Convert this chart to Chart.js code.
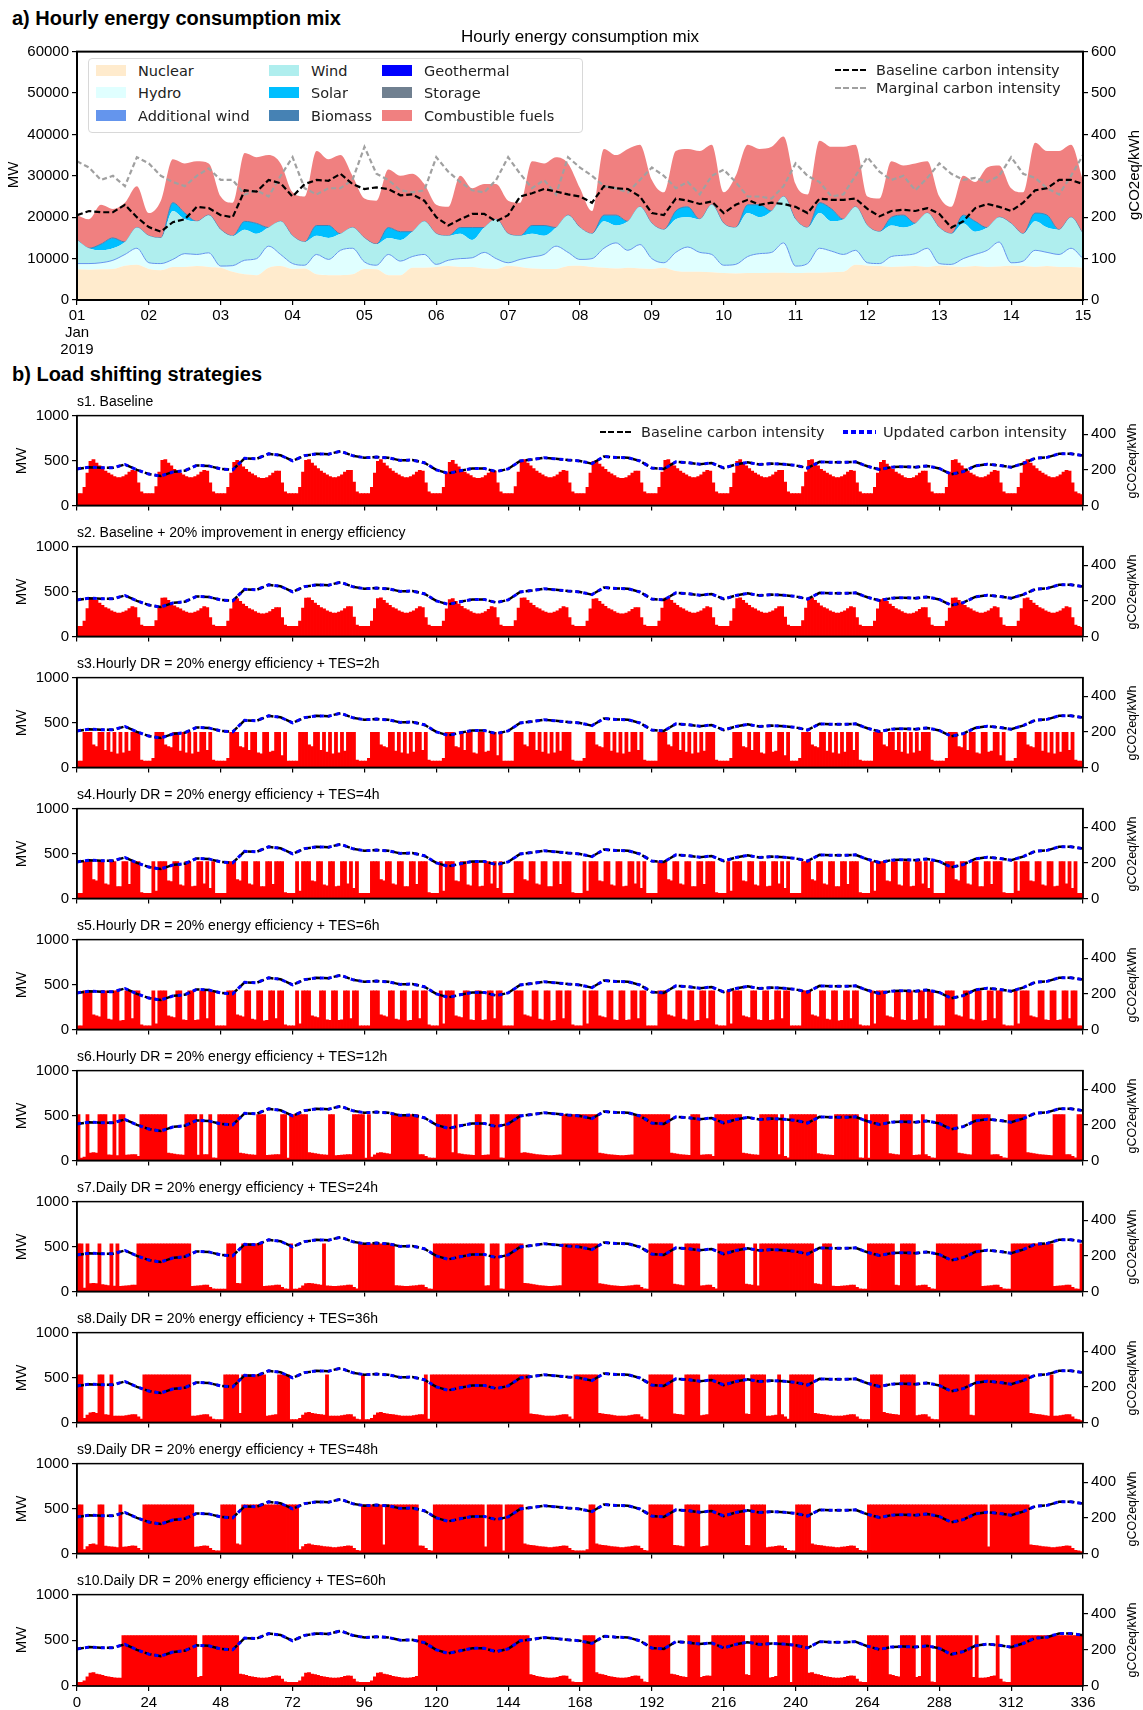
<!DOCTYPE html>
<html>
<head>
<meta charset="utf-8">
<script src="https://cdn.jsdelivr.net/npm/chart.js@4.4.1/dist/chart.umd.min.js"></script>
<style>
  body { margin: 0; background: #fff; width: 1143px; height: 1710px; position: relative; overflow: hidden;
         font-family: "Liberation Sans", Arial, sans-serif; color: #000; }
  canvas { position: absolute; left: 0; }
  .t { position: absolute; white-space: nowrap; line-height: 1; z-index: 2; }
  .legbox { position: absolute; left: 88px; top: 58px; width: 493px; height: 73px; background: #fff;
            border: 1px solid #d8d8d8; border-radius: 4px; z-index: 1; }
  .sw { position: absolute; width: 30px; height: 11px; z-index: 2; }
  .lg { font-family: "DejaVu Sans", sans-serif; font-size: 14.5px; color: #222; }
  .dash { position: absolute; z-index: 2; }
</style>
</head>
<body>
<div id="root"></div>
<script>
// ---- hours ----
const hours4 = Array.from({ length: 85 }, (_, i) => i * 4);      // sample hours of the mix / intensity curves
const barHours = Array.from({ length: 336 }, (_, i) => i + 0.5);  // hourly bars
const dayLabels = ['01','02','03','04','05','06','07','08','09','10','11','12','13','14','15'];
const hourLabels = ['0','24','48','72','96','120','144','168','192','216','240','264','288','312','336'];

// ---- a) energy mix, cumulative levels (MW), every 4 h ----
const nuclearLevel = [
  7400,7300,7400,7500,8300,8500, 7500,7200,8000,8000,8200,8000, 7800,6800,6200,6000,7800,8200,
  7500,7600,6200,6000,6000,6200, 7500,7400,6000,6000,7800,7800, 8000,8200,8000,8000,7600,7500,
  8300,8000,7600,7500,7500,8200, 8300,8000,7800,7600,7800,7600, 7500,7800,7000,6800,6800,6700,
  6500,6400,6500,6500,6600,6600, 6500,6600,6600,6700,6800,8500, 8300,8200,8000,8100,8200,8000,
  8300,8100,8000,8200,8000,8100, 8300,8200,8000,8200,8000,8000, 7800];
const hydroLevel = [
  8800,8800,9000,9600,11000,12500, 9000,8800,9800,11200,11000,11400, 8200,8300,9600,10000,13000,11000,
  8800,8400,11000,9800,12000,12500, 9200,8400,11000,9400,10500,11000, 8600,9600,10000,10200,11500,10000,
  9000,9800,10400,11000,13000,11500, 9800,10000,12500,13800,12000,13400, 10000,9000,11500,12800,11500,11000,
  8400,8600,10500,11200,11500,13800, 8200,8800,12500,11800,11000,12000, 9000,8800,10500,10800,11200,12500,
  8800,8600,10000,11000,12000,14000, 9000,9400,12000,11500,11000,12500, 10000];
const windLevel = [
  14500,12500,12000,12500,14000,17500, 15500,15000,21500,19500,19000,20500, 17000,15500,17000,16000,17500,19000,
  15500,14000,15500,15000,16000,17500, 15000,13500,15000,14500,16500,19000, 16000,15500,16000,14500,17500,19500,
  16000,15500,16000,15500,17500,20500, 17500,16000,19000,18000,19000,22500, 18500,17000,19500,20000,19500,23000,
  18500,17500,21000,20000,21500,25000, 19500,17500,21000,19000,19500,22500, 18000,16500,18000,17500,18500,21000,
  17500,16000,18500,16500,17500,20000, 18500,16000,19000,17500,17000,20000, 16000];
const solarLevel = [
  14500,12500,13500,15000,14000,17500, 15500,15000,23500,21000,19000,20500, 17000,15500,19000,18500,17500,19000,
  15500,14000,18000,18000,16000,17500, 15000,13500,17500,16500,16500,19000, 16000,15500,17500,17500,17500,19500,
  16000,15500,18000,18000,17500,20500, 17500,16000,20500,20500,19000,22500, 18500,17000,21500,22500,19500,23000,
  18500,17500,23000,23000,21500,25000, 19500,17500,23500,22000,19500,22500, 18000,16500,20000,20500,18500,21000,
  17500,16000,20500,19000,17500,20000, 18500,16000,21000,20500,17000,20000, 16000];
const fuelLevel = [
  20500,19500,23000,22000,23500,27500, 21000,24000,34000,33000,33500,33000, 25000,23500,35500,34500,35000,33000,
  26000,25000,36000,34000,35000,30000, 24500,24000,31500,30000,30500,28000, 23000,22500,30000,27000,28000,28000,
  24000,23500,33500,33000,34500,33000, 27000,21500,36500,35000,36500,37500, 29000,26000,36000,36500,36000,37500,
  26000,30000,37500,36500,37000,39500, 28000,25500,38500,37000,37000,37500, 25000,24500,33500,32500,33000,33500,
  25000,22500,30000,28500,32000,32500, 27000,26000,38000,36000,36000,37500, 29000];

// ---- carbon intensity (gCO2eq/kWh), every 4 h ----
const baselineCI = [
  205,215,212,212,230,200, 176,165,188,195,225,222, 205,200,265,262,290,282,
  250,280,290,288,305,280, 268,272,268,253,255,240, 200,180,195,208,208,190,
  205,250,258,268,262,255, 250,235,275,270,268,250, 210,205,245,240,232,238,
  210,230,242,230,235,232, 225,210,245,242,242,245, 220,202,215,218,215,222,
  208,175,190,222,232,225, 215,235,265,270,290,290, 280];
const marginalCI = [
  335,320,290,300,275,345, 330,300,285,275,300,318, 290,290,255,265,250,300,
  345,270,255,270,270,290, 370,305,290,265,260,265, 345,310,285,265,260,290,
  345,305,270,290,255,345, 320,300,275,270,260,290, 320,300,270,285,255,300,
  315,285,250,250,245,275, 330,300,285,250,255,300, 345,310,290,300,265,295,
  330,305,290,295,285,300, 345,305,295,270,255,300, 350];
// the updated intensity lies on top of the baseline curve in every scenario
const updatedCI = baselineCI;

// ---- b) hourly load per scenario (MW) ----
const s1Load = [
  130,130,200,360,490,510,470,440,410,380,360,340,320,310,310,320,340,370,390,380,250,150,130,130,
  130,130,210,370,500,510,470,440,400,380,360,340,320,310,310,320,340,370,390,380,250,150,130,130,
  130,130,200,360,480,500,460,430,400,370,350,330,310,300,300,310,330,360,380,380,250,150,130,130,
  130,130,200,370,500,510,470,440,410,380,360,340,320,310,310,320,340,370,390,390,260,150,130,130,
  130,130,200,360,490,510,470,440,410,380,360,340,320,310,310,320,340,370,390,380,250,150,130,130,
  130,130,200,360,480,500,460,430,400,370,350,330,310,300,300,310,330,360,390,380,250,150,130,130,
  130,130,210,370,500,510,470,440,410,380,360,340,320,310,310,320,340,370,390,380,250,150,130,130,
  130,130,200,360,490,500,460,430,400,370,350,330,310,300,300,310,330,360,380,380,250,150,130,130,
  130,130,200,370,500,510,470,440,410,380,360,340,320,310,310,320,340,370,390,380,250,150,130,130,
  130,130,200,360,490,510,470,440,410,380,360,340,320,310,310,320,340,370,390,390,260,150,130,130,
  130,130,210,370,500,510,470,440,400,380,360,340,320,310,310,320,340,370,390,380,250,150,130,130,
  130,130,200,360,480,500,460,430,400,370,350,330,310,300,300,310,330,360,380,380,250,150,130,130,
  130,130,200,370,500,510,470,440,410,380,360,340,320,310,310,320,340,370,390,380,250,150,130,130,
  130,130,200,360,490,510,470,440,410,380,360,340,320,310,310,320,340,370,390,380,250,150,130,120];
const s2Load = [
  110,110,170,310,420,430,400,370,345,320,305,285,270,260,260,270,285,310,330,320,210,125,110,110,
  110,110,175,315,425,430,400,370,340,320,305,285,270,260,260,270,285,310,330,320,210,125,110,110,
  110,110,170,305,410,420,390,360,335,310,295,275,260,250,250,260,275,300,320,320,210,125,110,110,
  110,110,170,315,425,430,400,370,345,320,305,285,270,260,260,270,285,310,330,330,215,125,110,110,
  110,110,170,310,420,430,400,370,345,320,305,285,270,260,260,270,285,310,330,320,210,125,110,110,
  110,110,170,305,410,420,390,360,335,310,295,275,260,250,250,260,275,300,330,320,210,125,110,110,
  110,110,175,315,425,430,400,370,345,320,305,285,270,260,260,270,285,310,330,320,210,125,110,110,
  110,110,170,305,415,420,390,360,335,310,295,275,260,250,250,260,275,300,320,320,210,125,110,110,
  110,110,170,315,425,430,400,370,345,320,305,285,270,260,260,270,285,310,330,320,210,125,110,110,
  110,110,170,310,420,430,400,370,345,320,305,285,270,260,260,270,285,310,330,330,215,125,110,110,
  110,110,175,315,425,430,400,370,340,320,305,285,270,260,260,270,285,310,330,320,210,125,110,110,
  110,110,170,305,410,420,390,360,335,310,295,275,260,250,250,260,275,300,320,320,210,125,110,110,
  110,110,170,315,425,430,400,370,345,320,305,285,270,260,260,270,285,310,330,320,210,125,110,110,
  110,110,170,310,420,430,400,370,345,320,305,285,270,260,260,270,285,310,330,320,210,125,110,100];
const s3Load = [
  70,70,390,390,390,250,230,390,390,190,390,170,390,150,390,160,390,180,390,390,390,80,70,70,
  70,100,390,390,390,250,230,220,390,390,180,390,160,390,150,390,170,390,390,190,390,80,70,70,
  70,70,100,390,390,390,230,220,390,190,390,390,160,150,390,390,170,180,390,390,130,390,70,70,
  70,70,390,390,390,250,230,390,390,190,390,170,390,150,390,160,390,180,390,390,390,80,70,70,
  70,100,390,390,390,250,230,220,390,390,180,390,160,390,150,390,170,390,390,190,390,80,70,70,
  70,70,100,390,390,390,230,220,390,190,390,390,160,150,390,390,170,180,390,390,130,390,70,70,
  70,70,390,390,390,250,230,390,390,190,390,170,390,150,390,160,390,180,390,390,390,80,70,70,
  70,100,390,390,390,250,230,220,390,390,180,390,160,390,150,390,170,390,390,190,390,80,70,70,
  70,70,390,390,390,250,230,390,390,190,390,170,390,150,390,160,390,180,390,390,390,80,70,70,
  70,70,100,390,390,390,230,220,390,190,390,390,160,150,390,390,170,180,390,390,130,390,70,70,
  70,100,390,390,390,250,230,220,390,390,180,390,160,390,150,390,170,390,390,190,390,80,70,70,
  70,70,390,390,390,250,230,390,390,190,390,170,390,150,390,160,390,180,390,390,390,80,70,70,
  70,70,100,390,390,390,230,220,390,190,390,390,160,150,390,390,170,180,390,390,130,390,70,70,
  70,100,390,390,390,250,230,220,390,390,180,390,160,390,150,390,170,390,390,190,390,80,70,70];
const s4Load = [
  55,55,410,410,410,210,195,410,410,160,150,410,410,130,130,410,410,155,410,410,410,65,55,55,
  55,410,80,410,410,410,195,185,410,410,150,140,410,410,130,135,410,410,160,410,110,410,55,55,
  55,55,410,410,410,210,195,410,410,160,150,410,410,130,130,410,410,155,410,410,410,65,55,55,
  55,410,80,410,410,410,195,185,410,410,150,140,410,410,130,135,410,410,160,410,110,410,55,55,
  55,55,410,410,410,210,195,410,410,160,150,410,410,130,130,410,410,155,410,410,410,65,55,55,
  55,410,80,410,410,410,195,185,410,410,150,140,410,410,130,135,410,410,160,410,110,410,55,55,
  55,55,410,410,410,210,195,410,410,160,150,410,410,130,130,410,410,155,410,410,410,65,55,55,
  55,410,80,410,410,410,195,185,410,410,150,140,410,410,130,135,410,410,160,410,110,410,55,55,
  55,55,410,410,410,210,195,410,410,160,150,410,410,130,130,410,410,155,410,410,410,65,55,55,
  55,410,80,410,410,410,195,185,410,410,150,140,410,410,130,135,410,410,160,410,110,410,55,55,
  55,55,410,410,410,210,195,410,410,160,150,410,410,130,130,410,410,155,410,410,410,65,55,55,
  55,410,80,410,410,410,195,185,410,410,150,140,410,410,130,135,410,410,160,410,110,410,55,55,
  55,55,410,410,410,210,195,410,410,160,150,410,410,130,130,410,410,155,410,410,410,65,55,55,
  55,410,80,410,410,410,195,185,410,410,150,140,410,410,130,135,410,410,160,410,110,410,55,55];
const s5Load = [
  40,40,430,430,430,160,150,140,430,430,115,105,430,430,95,100,430,430,120,430,430,50,40,40,
  40,430,60,430,430,430,150,140,130,430,430,105,100,430,430,100,105,430,430,120,430,430,40,40,
  40,40,430,430,430,160,150,140,430,430,115,105,430,430,95,100,430,430,120,430,430,50,40,40,
  40,430,60,430,430,430,150,140,130,430,430,105,100,430,430,100,105,430,430,120,430,430,40,40,
  40,40,430,430,430,160,150,140,430,430,115,105,430,430,95,100,430,430,120,430,430,50,40,40,
  40,430,60,430,430,430,150,140,130,430,430,105,100,430,430,100,105,430,430,120,430,430,40,40,
  40,40,430,430,430,160,150,140,430,430,115,105,430,430,95,100,430,430,120,430,430,50,40,40,
  40,430,60,430,430,430,150,140,130,430,430,105,100,430,430,100,105,430,430,120,430,430,40,40,
  40,40,430,430,430,160,150,140,430,430,115,105,430,430,95,100,430,430,120,430,430,50,40,40,
  40,430,60,430,430,430,150,140,130,430,430,105,100,430,430,100,105,430,430,120,430,430,40,40,
  40,40,430,430,430,160,150,140,430,430,115,105,430,430,95,100,430,430,120,430,430,50,40,40,
  40,430,60,430,430,430,150,140,130,430,430,105,100,430,430,100,105,430,430,120,430,430,40,40,
  40,40,430,430,430,160,150,140,430,430,115,105,430,430,95,100,430,430,120,430,430,50,40,40,
  40,430,60,430,430,430,150,140,130,430,430,105,100,430,430,100,105,430,430,120,430,430,40,40];
const s6Load = [
  510,25,35,510,80,85,80,510,510,510,60,58,510,52,510,510,58,62,65,65,45,510,510,510,
  510,510,510,510,510,510,80,75,70,65,60,58,510,510,510,510,58,510,65,65,510,28,25,510,
  510,510,510,510,510,510,80,75,70,65,60,58,510,510,510,55,58,62,65,65,510,510,25,510,
  510,510,510,510,510,85,80,75,70,65,60,58,510,510,52,55,58,62,65,65,510,510,510,510,
  25,510,35,60,80,85,80,75,70,510,510,510,510,510,510,510,510,510,65,65,45,28,25,25,
  510,510,510,510,510,85,510,75,70,65,60,58,55,510,510,55,58,62,510,510,510,28,25,510,
  510,510,510,510,80,85,80,75,70,65,60,58,55,52,52,55,58,62,510,510,510,510,510,510,
  510,510,510,510,510,510,80,75,70,65,60,58,55,52,52,55,58,62,510,510,510,510,510,510,
  510,510,510,510,510,510,80,75,70,65,60,58,55,510,510,510,58,62,65,65,45,510,510,510,
  510,510,510,510,510,510,80,75,70,65,60,58,510,510,510,510,510,510,65,510,45,28,510,510,
  510,510,510,510,510,510,510,75,70,65,60,58,55,510,510,510,510,510,510,510,510,28,25,510,
  25,510,510,510,510,510,510,75,70,65,60,510,510,510,510,55,58,62,510,65,45,28,25,510,
  510,510,510,510,510,510,80,75,70,65,60,510,510,510,510,510,510,62,65,65,45,28,25,510,
  510,510,510,510,510,85,80,75,70,65,60,58,55,52,510,510,510,510,65,65,45,28,510,510];
const s7Load = [
  530,530,35,530,85,90,85,530,75,70,65,530,58,530,55,58,60,65,70,68,530,530,530,530,
  530,530,530,530,530,530,530,530,530,530,530,530,530,530,55,58,60,65,70,68,45,28,25,25,
  25,25,530,530,530,90,85,530,530,530,530,530,530,530,55,58,60,65,70,68,45,28,25,530,
  25,25,35,60,85,90,85,80,75,70,530,60,58,55,55,58,60,65,70,68,45,28,530,530,
  530,530,530,530,530,530,530,530,530,530,65,60,58,55,55,58,60,65,70,68,45,28,25,530,
  530,530,530,530,530,530,530,530,530,530,530,530,530,530,530,530,60,65,530,530,530,28,25,530,
  530,530,530,530,530,90,85,80,75,70,65,60,58,55,55,58,60,65,530,530,530,530,530,530,
  530,530,530,530,530,530,85,80,75,70,65,60,58,55,55,58,60,65,70,68,45,28,25,530,
  530,530,530,530,530,530,530,80,75,70,65,530,530,530,530,530,60,65,70,68,45,28,530,530,
  530,530,530,530,530,530,530,80,75,70,530,60,530,530,530,530,530,530,530,530,530,530,530,530,
  530,530,530,530,530,530,85,80,75,530,530,530,58,55,55,58,60,65,70,68,45,28,25,25,
  530,530,530,530,530,530,530,530,530,70,65,530,530,530,530,530,60,65,70,68,45,28,25,530,
  530,530,530,530,530,530,530,530,530,530,530,530,530,530,55,58,60,65,70,68,45,28,25,25,
  530,530,530,530,530,530,530,530,530,530,530,530,530,530,55,58,60,65,70,68,45,28,25,530];
const s8Load = [
  530,530,45,80,105,110,100,530,530,85,80,530,70,68,68,70,75,80,85,85,60,35,530,530,
  530,530,530,530,530,530,530,530,530,530,530,530,530,530,68,70,75,80,85,85,60,35,30,30,
  30,530,530,530,530,530,100,530,530,530,530,530,530,530,530,70,75,80,85,530,530,530,530,30,
  30,30,45,80,105,110,100,95,90,85,80,530,70,68,68,70,75,80,85,85,60,35,30,530,
  30,30,45,80,105,110,100,95,90,85,80,75,70,68,68,70,75,80,85,85,530,35,530,530,
  530,530,530,530,530,530,530,530,530,530,530,530,530,530,530,530,530,530,530,530,530,530,530,530,
  530,530,530,530,530,530,530,95,90,85,80,75,70,68,68,70,75,80,85,85,60,35,530,530,
  530,530,530,530,530,530,100,95,90,85,80,75,70,68,68,70,75,80,85,85,60,35,30,530,
  530,530,530,530,530,530,530,95,90,85,80,530,530,530,530,530,75,80,85,530,530,530,530,530,
  530,530,530,530,530,530,530,95,90,530,530,530,530,530,68,70,75,80,530,85,60,35,530,530,
  530,530,530,530,530,530,100,95,90,85,80,75,70,68,68,70,75,80,85,85,60,35,30,30,
  30,530,530,530,530,110,100,95,90,85,80,530,530,530,530,530,75,80,85,85,60,35,30,30,
  530,530,530,530,530,530,530,530,530,530,80,75,530,530,530,530,530,530,530,530,530,530,530,530,
  530,530,530,530,530,530,100,95,90,85,80,75,70,530,68,70,75,80,85,85,60,35,30,20];
const s9Load = [
  540,540,42,75,100,105,95,540,540,80,75,72,68,65,540,68,72,78,82,80,55,33,540,540,
  540,540,540,540,540,540,540,540,540,540,540,540,540,540,540,68,72,78,82,80,55,33,28,28,
  540,540,540,540,540,105,95,540,540,540,540,540,540,540,540,540,540,540,540,540,540,540,540,540,
  540,540,42,75,100,105,95,90,85,80,75,72,68,65,65,68,72,78,82,80,55,33,28,540,
  540,540,540,540,540,540,95,540,540,540,540,540,540,540,540,540,540,540,82,80,55,33,28,540,
  540,540,540,540,540,540,540,540,540,540,540,540,540,540,540,540,72,540,540,540,540,540,28,540,
  540,540,540,540,540,105,95,90,85,80,75,72,68,65,65,68,72,78,82,80,55,33,28,28,
  28,28,42,540,540,105,95,90,85,80,75,72,68,65,65,68,72,78,82,80,55,33,28,540,
  540,540,540,540,540,540,540,90,85,80,75,540,540,540,540,540,72,78,82,540,540,540,540,540,
  540,540,540,540,540,540,540,90,85,540,540,540,540,540,65,68,72,78,82,80,55,33,28,28,
  540,540,540,540,540,105,95,90,85,80,75,72,68,65,65,68,72,78,82,80,55,33,28,28,
  540,540,540,540,540,540,540,540,540,540,540,540,540,540,540,540,540,540,540,540,540,540,540,540,
  540,540,540,540,540,540,540,540,540,540,540,540,540,540,540,540,72,540,540,540,540,540,540,540,
  540,540,540,540,540,540,95,90,85,80,75,72,68,65,65,68,72,78,82,80,55,33,28,20];
const s10Load = [
  40,40,55,100,140,145,130,125,115,105,100,95,90,87,87,550,550,550,550,550,550,550,550,550,
  550,550,550,550,550,550,550,550,550,550,550,550,550,550,550,550,95,105,550,550,550,550,550,550,
  550,550,550,550,550,550,130,125,115,105,100,95,90,87,87,90,95,105,110,108,75,45,40,40,
  40,40,55,100,140,145,130,125,115,105,100,95,90,87,87,90,95,105,110,108,75,45,40,40,
  40,40,55,100,140,145,130,125,115,105,100,95,90,87,87,90,95,105,550,550,550,550,550,550,
  550,550,550,550,550,550,550,550,550,550,550,550,550,550,550,550,550,550,550,550,550,550,550,550,
  550,550,550,550,550,550,550,125,115,105,100,95,90,87,87,90,95,105,110,108,75,45,40,40,
  40,550,550,550,550,145,130,125,115,105,100,95,90,87,87,90,95,105,110,108,75,45,40,550,
  550,550,550,550,550,550,130,125,115,105,100,95,550,550,550,550,95,105,110,108,550,550,550,550,
  550,550,550,550,550,550,550,125,115,550,550,550,550,550,550,90,95,105,550,550,550,550,40,550,
  550,550,550,550,140,145,130,125,115,105,100,95,90,87,87,90,95,105,110,108,75,45,40,40,
  550,550,550,550,550,550,550,125,115,105,100,550,550,550,550,550,95,105,550,550,550,45,40,550,
  550,550,550,550,550,550,550,550,550,550,550,95,550,87,87,90,95,105,110,550,75,45,40,40,
  550,550,550,550,550,550,550,550,550,550,550,550,550,550,550,550,550,550,550,550,550,550,550,550];

const panels = [
  { title: 's1. Baseline', load: s1Load },
  { title: 's2. Baseline + 20% improvement in energy efficiency', load: s2Load },
  { title: 's3.Hourly DR = 20% energy efficiency + TES=2h', load: s3Load },
  { title: 's4.Hourly DR = 20% energy efficiency + TES=4h', load: s4Load },
  { title: 's5.Hourly DR = 20% energy efficiency + TES=6h', load: s5Load },
  { title: 's6.Hourly DR = 20% energy efficiency + TES=12h', load: s6Load },
  { title: 's7.Daily DR = 20% energy efficiency + TES=24h', load: s7Load },
  { title: 's8.Daily DR = 20% energy efficiency + TES=36h', load: s8Load },
  { title: 's9.Daily DR = 20% energy efficiency + TES=48h', load: s9Load },
  { title: 's10.Daily DR = 20% energy efficiency + TES=60h', load: s10Load }
];

// ---- helpers ----
const root = document.getElementById('root');
const FONT = 'Liberation Sans, Arial, sans-serif';

function text(str, x, y, opts) {
  const d = document.createElement('div');
  d.className = 't' + (opts.cls ? ' ' + opts.cls : '');
  d.textContent = str;
  d.style.left = x + 'px';
  d.style.top = y + 'px';
  d.style.fontSize = (opts.size || 15) + 'px';
  if (opts.bold) d.style.fontWeight = 'bold';
  let tr = opts.center ? 'translate(-50%,-50%)' : 'translateY(-50%)';
  if (opts.rot) tr += ' rotate(-90deg)';
  d.style.transform = tr;
  root.appendChild(d);
}

function box(cls, x, y, w, h, bg) {
  const d = document.createElement('div');
  d.className = cls;
  Object.assign(d.style, { left: x + 'px', top: y + 'px', width: w + 'px', height: h + 'px', background: bg });
  root.appendChild(d);
}

function canvas(top, h) {
  const c = document.createElement('canvas');
  c.width = 1143; c.height = h;
  c.style.top = top + 'px';
  root.appendChild(c);
  return c;
}

const framePlugin = {
  id: 'frame',
  afterDraw(chart, args, opts) {
    const a = chart.chartArea, ctx = chart.ctx;
    ctx.save();
    ctx.strokeStyle = '#000';
    ctx.lineWidth = opts.width || 1.5;
    ctx.strokeRect(a.left, a.top, a.right - a.left, a.bottom - a.top);
    ctx.restore();
  }
};

const tickGrid = { drawOnChartArea: false, drawTicks: true, tickLength: 5, color: '#000', lineWidth: 1.2 };
const axisBorder = { display: true, color: '#000', width: 1.5 };
const tickFont = { family: FONT, size: 15, lineHeight: 1.15 };
const plain = v => String(v);   // no thousands separators, as in the original

// ---- a) hourly energy consumption mix ----
const mixTop = 40, mixH = 322;
new Chart(canvas(mixTop, mixH), {
  type: 'line',
  data: {
    labels: hours4,
    datasets: [
      { label: 'Nuclear', data: nuclearLevel, fill: 'origin', backgroundColor: '#FFEBCD', borderWidth: 0, cubicInterpolationMode: 'monotone' },
      { label: 'Hydro', data: hydroLevel, fill: '-1', backgroundColor: '#E0FFFF', borderColor: '#6495ED', borderWidth: 1, cubicInterpolationMode: 'monotone' },
      { label: 'Wind', data: windLevel, fill: '-1', backgroundColor: '#AFEEEE', borderWidth: 0, cubicInterpolationMode: 'monotone' },
      { label: 'Solar', data: solarLevel, fill: '-1', backgroundColor: '#00BFFF', borderColor: '#4682B4', borderWidth: 1, cubicInterpolationMode: 'monotone' },
      { label: 'Combustible fuels', data: fuelLevel, fill: '-1', backgroundColor: '#F08080', borderWidth: 0, cubicInterpolationMode: 'monotone' },
      { label: 'Baseline carbon intensity', data: baselineCI, yAxisID: 'y1', fill: false, borderColor: '#000', borderDash: [6, 3], borderWidth: 2.2, order: -2 },
      { label: 'Marginal carbon intensity', data: marginalCI, yAxisID: 'y1', fill: false, borderColor: '#A0A0A0', borderDash: [5, 3], borderWidth: 2.2, order: -1 }
    ]
  },
  options: {
    responsive: false, animation: false, devicePixelRatio: 1,
    layout: { padding: { top: 10, left: 0, right: 0, bottom: 0 } },
    elements: { point: { radius: 0 } },
    plugins: { legend: { display: false }, tooltip: { enabled: false }, frame: { width: 2 } },
    scales: {
      x: {
        type: 'linear', min: 0, max: 336, offset: false,
        grid: tickGrid, border: axisBorder,
        ticks: { stepSize: 24, autoSkip: false, maxRotation: 0, color: '#000', font: tickFont, padding: 2,
                 callback: v => v === 0 ? [dayLabels[0], 'Jan', '2019'] : dayLabels[v / 24] },
        afterFit: s => { s.height = 62; }
      },
      y: {
        min: 0, max: 60000, grid: tickGrid, border: axisBorder,
        ticks: { stepSize: 10000, color: '#000', font: tickFont, padding: 3, callback: plain },
        afterFit: s => { s.width = 77; }
      },
      y1: {
        position: 'right', min: 0, max: 600, grid: tickGrid, border: axisBorder,
        ticks: { stepSize: 100, color: '#000', font: tickFont, padding: 3, callback: plain },
        afterFit: s => { s.width = 60; }
      }
    }
  },
  plugins: [framePlugin]
});

text('a) Hourly energy consumption mix', 12, 18, { size: 20, bold: true });
text('Hourly energy consumption mix', 580, 36, { size: 17, center: true });
text('MW', 12, 175, { size: 15, center: true, rot: true });
text('gCO2eq/kWh', 1133, 175, { size: 15, center: true, rot: true });

// area legend (three columns, filled column by column)
const mixLegend = [
  ['Nuclear', '#FFEBCD'], ['Hydro', '#E0FFFF'], ['Additional wind', '#6495ED'],
  ['Wind', '#AFEEEE'], ['Solar', '#00BFFF'], ['Biomass', '#4682B4'],
  ['Geothermal', '#0000FF'], ['Storage', '#708090'], ['Combustible fuels', '#F08080']
];
const legCols = [96, 269, 382], legRows = [71, 93, 116];
box('legbox', 88, 58, 493, 73, '#fff');
mixLegend.forEach(([name, col], i) => {
  const cx = legCols[Math.floor(i / 3)], cy = legRows[i % 3];
  box('sw', cx, cy - 6, 30, 11, col);
  text(name, cx + 42, cy, { size: 14.5, cls: 'lg' });
});

// line legends
function dashSample(x, y, w, color, dash, gap, thick) {
  box('dash', x, y - thick / 2, w, thick,
      `repeating-linear-gradient(90deg, ${color} 0 ${dash}px, transparent ${dash}px ${dash + gap}px)`);
}
dashSample(835, 70, 32, '#000', 6, 2.5, 2.5);
text('Baseline carbon intensity', 876, 70, { size: 14.5, cls: 'lg' });
dashSample(835, 88, 32, '#A0A0A0', 6, 2.5, 2.5);
text('Marginal carbon intensity', 876, 88, { size: 14.5, cls: 'lg' });

// ---- b) load shifting strategies ----
text('b) Load shifting strategies', 12, 374, { size: 20, bold: true });

const ciPoints = arr => hours4.map((h, i) => ({ x: h, y: arr[i] }));

panels.forEach((p, k) => {
  const top = Math.round(414.4 + k * 130.9);
  const last = k === panels.length - 1;
  const xH = last ? 28 : 10;
  const plotH = 93;
  new Chart(canvas(top - 10, 10 + plotH + xH), {
    type: 'bar',
    data: {
      labels: barHours,
      datasets: [
        { type: 'line', label: 'Updated carbon intensity', data: ciPoints(updatedCI), yAxisID: 'y1',
          borderColor: '#0000FF', borderDash: [4, 4], borderWidth: 3, pointRadius: 0, fill: false, order: -2 },
        { type: 'line', label: 'Baseline carbon intensity', data: ciPoints(baselineCI), yAxisID: 'y1',
          borderColor: '#000', borderDash: [7, 3], borderWidth: 2.5, pointRadius: 0, fill: false, order: -1 },
        { type: 'bar', label: 'Load', data: p.load, yAxisID: 'y', backgroundColor: '#FF0000',
          barPercentage: 1, categoryPercentage: 1, inflateAmount: 0.4, order: 0 }
      ]
    },
    options: {
      responsive: false, animation: false, devicePixelRatio: 1,
      layout: { padding: { top: 10, left: 0, right: 0, bottom: 0 } },
      plugins: { legend: { display: false }, tooltip: { enabled: false }, frame: { width: 1.5 } },
      scales: {
        x: {
          type: 'linear', min: 0, max: 336, offset: false,
          grid: Object.assign({ offset: false }, tickGrid), border: axisBorder,
          ticks: { stepSize: 24, autoSkip: false, maxRotation: 0, color: '#000', font: tickFont, padding: 3,
                   callback: v => last ? hourLabels[v / 24] : '' },
          afterFit: s => { s.height = xH; }
        },
        y: {
          min: 0, max: 1000, grid: tickGrid, border: axisBorder,
          ticks: { stepSize: 500, color: '#000', font: tickFont, padding: 3, callback: plain },
          afterFit: s => { s.width = 77; }
        },
        y1: {
          position: 'right', min: 0, max: 505, grid: tickGrid, border: axisBorder,
          ticks: { stepSize: 200, includeBounds: false, color: '#000', font: tickFont, padding: 3, callback: plain },
          afterFit: s => { s.width = 60; }
        }
      }
    },
    plugins: [framePlugin]
  });
  text(p.title, 77, top - 13.5, { size: 14 });
  text('MW', 20, top + plotH / 2, { size: 15, center: true, rot: true });
  text('gCO2eq/kWh', 1132, top + plotH / 2, { size: 12.5, center: true, rot: true });
  if (k === 0) {
    dashSample(600, top + 18, 31, '#000', 6, 2.5, 2.5);
    text('Baseline carbon intensity', 641, top + 18, { size: 14.5, cls: 'lg' });
    dashSample(843, top + 18, 33, '#0000FF', 5, 3, 3.5);
    text('Updated carbon intensity', 883, top + 18, { size: 14.5, cls: 'lg' });
  }
});
</script>
</body>
</html>
